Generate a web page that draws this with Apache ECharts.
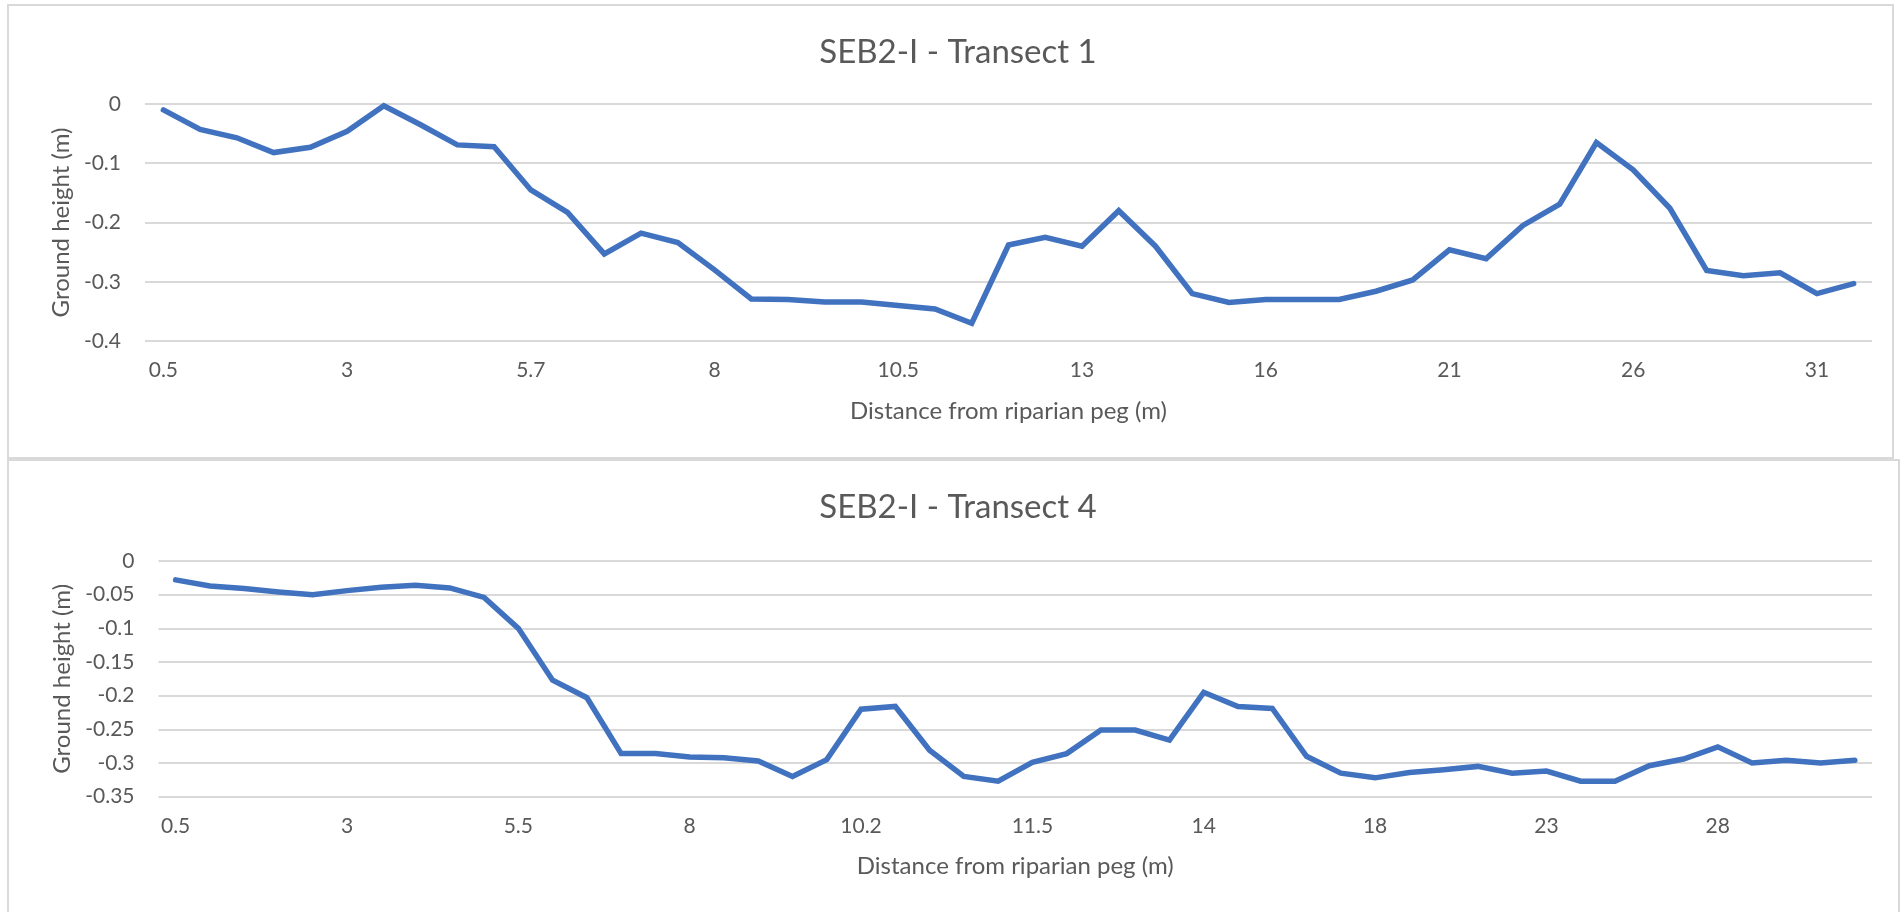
<!DOCTYPE html>
<html><head><meta charset="utf-8">
<script src="https://cdn.jsdelivr.net/npm/echarts@6/dist/echarts.min.js"></script>
<style>html,body{margin:0;padding:0;background:#fff}#c{width:1903px;height:912px}</style>
</head><body><div id="c"></div>
<script>
const titles = ['SEB2-I - Transect 1', 'SEB2-I - Transect 4'];
const xTitle = 'Distance from riparian peg (m)';
const yTitle = 'Ground height (m)';

const dist1 = ['0.5','1','1.5','2','2.5','3','3.5','4','4.5','5','5.7','6','6.5','7','7.5','8','8.5','9','9.5','10','10.5','11','11.5','12','12.5','13','13.5','14','14.5','15','16','17','18','19','20','21','22','23','24','25','26','27','28','29','30','31','32'];
const height1 = [-0.01,-0.043,-0.057,-0.082,-0.073,-0.046,-0.003,-0.035,-0.069,-0.072,-0.145,-0.183,-0.253,-0.218,-0.234,-0.28,-0.329,-0.33,-0.334,-0.334,-0.34,-0.346,-0.37,-0.238,-0.225,-0.24,-0.18,-0.24,-0.32,-0.335,-0.33,-0.33,-0.33,-0.316,-0.297,-0.246,-0.261,-0.205,-0.169,-0.065,-0.111,-0.176,-0.281,-0.29,-0.285,-0.32,-0.303];

const dist4 = ['0.5','1','1.5','2','2.5','3','3.5','4','4.5','5','5.5','6','6.5','7','7.5','8','8.5','9','9.5','10','10.2','10.4','10.6','10.8','11','11.5','12','12.5','13','13.5','14','15','16','17','17.5','18','19','20','21','22','23','24','25','26','27','28','29','30','31','32'];
const height4 = [-0.028,-0.037,-0.041,-0.046,-0.05,-0.044,-0.039,-0.036,-0.04,-0.054,-0.1,-0.177,-0.203,-0.286,-0.286,-0.291,-0.292,-0.297,-0.32,-0.295,-0.22,-0.216,-0.281,-0.32,-0.327,-0.299,-0.286,-0.251,-0.251,-0.266,-0.195,-0.216,-0.219,-0.29,-0.315,-0.322,-0.314,-0.31,-0.305,-0.315,-0.312,-0.327,-0.327,-0.304,-0.294,-0.276,-0.3,-0.296,-0.3,-0.296];

const yRange1 = {min: -0.4, max: 0, interval: 0.1};
const yRange4 = {min: -0.35, max: 0, interval: 0.05};

const FONT = 'Lato';
const TXT = '#595959';
const GRIDC = '#d9d9d9';
const LINEC = '#4072bf';

const chart = echarts.init(document.getElementById('c'), null, {renderer: 'canvas'});

function xAxisOf(idx, cats, gap) {
  return {
    type: 'category', gridIndex: idx, data: cats, boundaryGap: true,
    axisLine: {show: false}, axisTick: {show: false},
    axisLabel: {interval: 4, color: TXT, fontFamily: FONT, fontSize: 21, margin: 19},
    splitLine: {show: false},
    name: xTitle, nameLocation: 'middle', nameGap: gap,
    nameTextStyle: {color: TXT, fontFamily: FONT, fontSize: 24}
  };
}
function yAxisOf(idx, r, gap) {
  return {
    type: 'value', gridIndex: idx, min: r.min, max: r.max, interval: r.interval,
    axisLine: {show: false}, axisTick: {show: false},
    axisLabel: {color: TXT, fontFamily: FONT, fontSize: 21, margin: 24},
    splitLine: {show: true, lineStyle: {color: GRIDC, width: 2}},
    name: yTitle, nameLocation: 'middle', nameGap: gap,
    nameTextStyle: {color: TXT, fontFamily: FONT, fontSize: 24}
  };
}

chart.setOption({
  backgroundColor: '#ffffff',
  animation: false,
  title: [
    {text: titles[0], left: 953, top: 31, textAlign: 'center',
     textStyle: {color: TXT, fontFamily: FONT, fontSize: 33, fontWeight: 'normal'}},
    {text: titles[1], left: 953, top: 486, textAlign: 'center',
     textStyle: {color: TXT, fontFamily: FONT, fontSize: 33, fontWeight: 'normal'}}
  ],
  graphic: [
    {type: 'rect', shape: {x: 8, y: 5, width: 1885, height: 453}, style: {fill: 'none', stroke: '#d9d9d9', lineWidth: 2}, silent: true},
    {type: 'rect', shape: {x: 8, y: 460, width: 1891, height: 470}, style: {fill: 'none', stroke: '#d9d9d9', lineWidth: 2}, silent: true}
  ],
  grid: [
    {left: 145, top: 104, width: 1727, height: 237},
    {left: 158.5, top: 561, width: 1713.5, height: 235.7}
  ],
  xAxis: [xAxisOf(0, dist1, 58), xAxisOf(1, dist4, 58)],
  yAxis: [yAxisOf(0, yRange1, 69), yAxisOf(1, yRange4, 83)],
  series: [
    {type: 'line', xAxisIndex: 0, yAxisIndex: 0, data: height1, showSymbol: false, smooth: false,
     lineStyle: {color: LINEC, width: 5.5, join: 'miter', cap: 'round'}},
    {type: 'line', xAxisIndex: 1, yAxisIndex: 1, data: height4, showSymbol: false, smooth: false,
     lineStyle: {color: LINEC, width: 5.5, join: 'miter', cap: 'round'}}
  ]
});
</script>
</body></html>
